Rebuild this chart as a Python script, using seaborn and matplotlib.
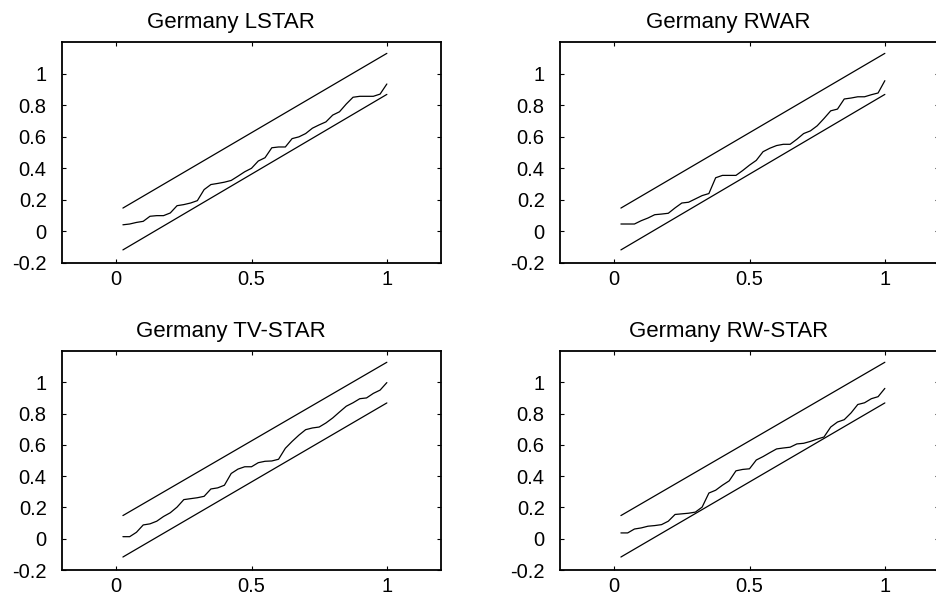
import numpy as np
import pandas as pd
import matplotlib
matplotlib.use("Agg")
import matplotlib.pyplot as plt
import seaborn as sns

# ---- data ----
titles = ["Germany LSTAR", "Germany RWAR", "Germany TV-STAR", "Germany RW-STAR"]

x_grid = np.arange(1, 41) / 40.0

lstar = [0.042, 0.047, 0.057, 0.064, 0.096, 0.100, 0.100, 0.117, 0.163, 0.170,
         0.180, 0.195, 0.265, 0.297, 0.304, 0.312, 0.323, 0.350, 0.378, 0.400,
         0.446, 0.467, 0.530, 0.535, 0.535, 0.588, 0.599, 0.620, 0.654, 0.675,
         0.694, 0.737, 0.758, 0.807, 0.850, 0.856, 0.856, 0.856, 0.870, 0.934]

rwar = [0.047, 0.047, 0.047, 0.068, 0.085, 0.106, 0.110, 0.115, 0.149, 0.180,
        0.185, 0.206, 0.227, 0.240, 0.340, 0.355, 0.355, 0.355, 0.386, 0.420,
        0.450, 0.505, 0.527, 0.544, 0.552, 0.552, 0.584, 0.620, 0.637, 0.669,
        0.715, 0.764, 0.775, 0.839, 0.845, 0.853, 0.853, 0.866, 0.877, 0.955]

tvstar = [0.013, 0.013, 0.041, 0.088, 0.095, 0.112, 0.142, 0.166, 0.202, 0.250,
          0.256, 0.262, 0.271, 0.318, 0.325, 0.342, 0.417, 0.445, 0.460, 0.460,
          0.486, 0.495, 0.497, 0.508, 0.578, 0.622, 0.662, 0.697, 0.708, 0.714,
          0.740, 0.772, 0.810, 0.847, 0.869, 0.895, 0.900, 0.929, 0.950, 0.998]

rwstar = [0.037, 0.037, 0.062, 0.069, 0.080, 0.084, 0.090, 0.112, 0.155, 0.159,
          0.163, 0.170, 0.202, 0.292, 0.310, 0.342, 0.370, 0.434, 0.443, 0.447,
          0.503, 0.525, 0.550, 0.574, 0.580, 0.585, 0.606, 0.610, 0.622, 0.637,
          0.650, 0.714, 0.746, 0.761, 0.804, 0.858, 0.869, 0.895, 0.908, 0.961]

series = [lstar, rwar, tvstar, rwstar]

bound_x = [0.025, 1.0]
upper_bound = [0.148, 1.128]
lower_bound = [-0.117, 0.868]

xticks = [0, 0.5, 1]
xtick_labels = ["0", "0.5", "1"]
yticks = [-0.2, 0, 0.2, 0.4, 0.6, 0.8, 1]
ytick_labels = ["-0.2", "0", "0.2", "0.4", "0.6", "0.8", "1"]

# ---- style ----
sns.set_theme(style="ticks")
plt.rcParams['font.family'] = ['Liberation Sans', 'DejaVu Sans']
plt.rcParams['axes.unicode_minus'] = False

fig = plt.figure(figsize=(9.36, 5.96), dpi=100)
W, H = 936.0, 596.0
# axes boxes in pixels: (left, top, right, bottom)
boxes = [(62, 42, 441, 263), (560, 42, 939, 263),
         (62, 351, 441, 570), (560, 351, 939, 570)]

for i, (l, t, r, b) in enumerate(boxes):
    ax = fig.add_axes([l / W, 1 - b / H, (r - l) / W, (b - t) / H])
    df = pd.DataFrame({"x": x_grid, "y": series[i]})
    bdf = pd.DataFrame({"x": bound_x, "up": upper_bound, "lo": lower_bound})
    sns.lineplot(data=bdf, x="x", y="up", ax=ax, color="black", lw=0.9)
    sns.lineplot(data=bdf, x="x", y="lo", ax=ax, color="black", lw=0.9)
    sns.lineplot(data=df, x="x", y="y", ax=ax, color="black", lw=0.9, sort=False)
    ax.set_xlim(-0.2, 1.2)
    ax.set_ylim(-0.2, 1.2)
    ax.set_xticks(xticks)
    ax.set_xticklabels(xtick_labels)
    ax.set_yticks(yticks)
    ax.set_yticklabels(ytick_labels)
    ax.set_xlabel("")
    ax.set_ylabel("")
    ax.tick_params(axis="both", direction="in", length=3, width=0.8,
                   top=True, right=True, labelsize=14.5, colors="black")
    ax.tick_params(axis="y", pad=11)
    ax.tick_params(axis="x", pad=5)
    for sp in ax.spines.values():
        sp.set_visible(True)
        sp.set_linewidth(1.3)
        sp.set_color("black")
    ax.text(0.445, 1 + 14.0 / (b - t), titles[i], transform=ax.transAxes,
            ha="center", va="baseline", fontsize=16, color="black")

fig.savefig("out.png", dpi=100, facecolor="white")
